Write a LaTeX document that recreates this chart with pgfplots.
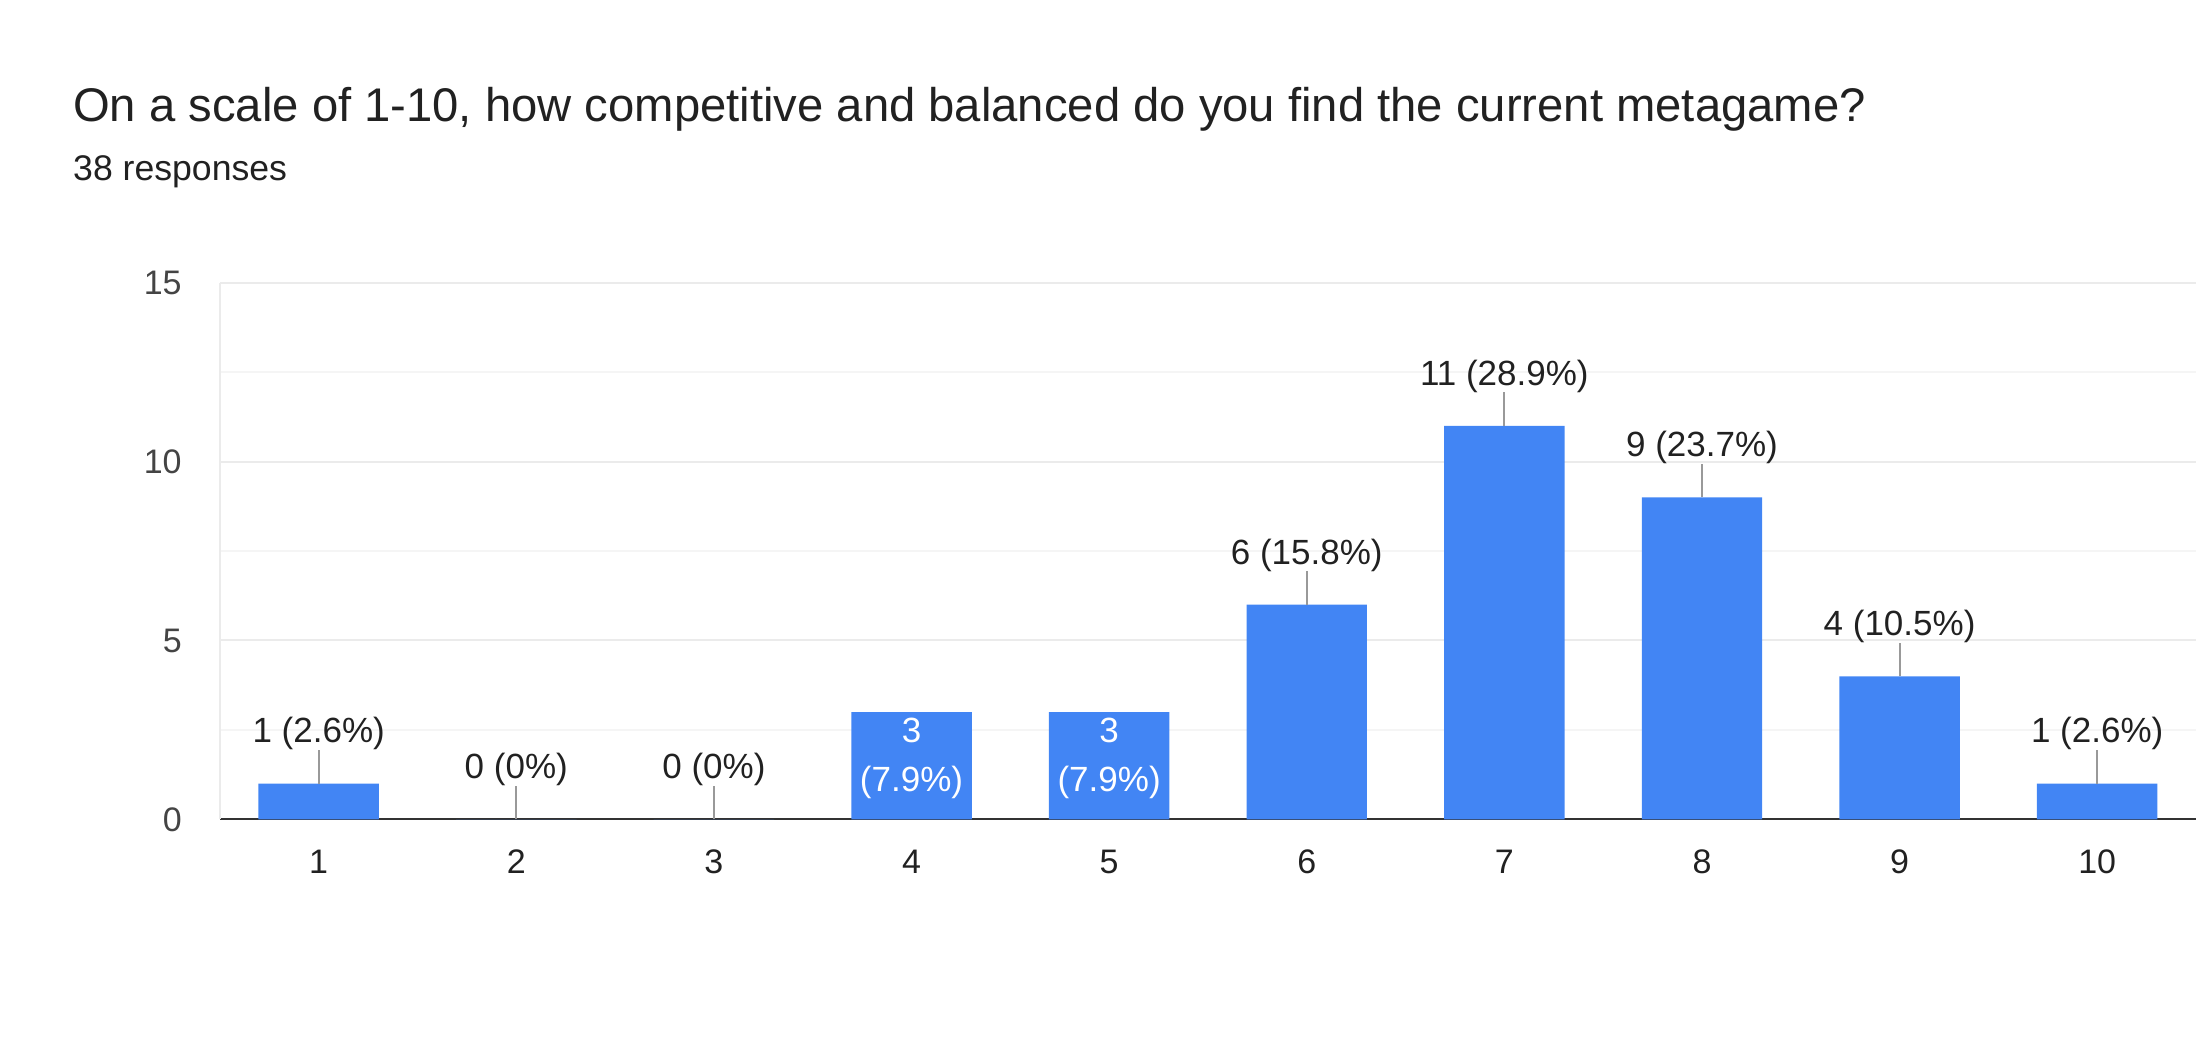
\documentclass[border=0pt]{standalone}
\usepackage{pgfplots}
\pgfplotsset{compat=1.18}
\usepackage{fontspec}
\setmainfont{Liberation Sans}
\definecolor{barblue}{HTML}{4285F4}
\definecolor{txt}{HTML}{212121}
\definecolor{ticktxt}{HTML}{444444}
\definecolor{gridmaj}{HTML}{EBEBEB}
\definecolor{gridmin}{HTML}{F5F5F5}
\definecolor{leader}{HTML}{999999}
\definecolor{basec}{HTML}{333333}
\begin{document}
\begin{tikzpicture}
\path[use as bounding box] (0,0) rectangle (1097.6pt,522.2pt);
\node[anchor=base west, inner sep=0, text=txt, font=\fontsize{23.6}{28}\selectfont] at (36.4pt,461.3pt) {On a scale of 1-10, how competitive and balanced do you find the current metagame?};
\node[anchor=base west, inner sep=0, text=txt, font=\fontsize{17.8}{21}\selectfont] at (36.4pt,431.9pt) {38 responses};
\begin{axis}[
  at={(109.9pt,112.7pt)}, anchor=south west,
  scale only axis, width=987.7pt, height=268.1pt,
  xmin=0.5, xmax=10.5, ymin=0, ymax=15,
  xtick={1,...,10}, ytick={0,5,10,15}, minor ytick={2.5,7.5,12.5},
  major tick length=0pt, minor tick length=0pt,
  ymajorgrids, yminorgrids,
  major grid style={draw=gridmaj, line width=1pt},
  minor grid style={draw=gridmin, line width=1pt},
  axis x line*=bottom, axis y line*=left,
  x axis line style={draw=basec, line width=1.1pt, -},
  y axis line style={draw=gridmaj, line width=1pt, -},
  /pgf/number format/assume math mode=true,
  xticklabel style={anchor=base, yshift=-27.3pt, inner sep=0, text=txt, font=\fontsize{17}{20}\selectfont},
  yticklabel style={anchor=east, xshift=-18.9pt, inner sep=0, text=ticktxt, font=\fontsize{17}{20}\selectfont},
  clip=false,
]
\addplot[ybar, bar width=60.2pt, bar shift=0pt, fill=barblue, draw=none] coordinates {(1,1) (2,0) (3,0) (4,3) (5,3) (6,6) (7,11) (8,9) (9,4) (10,1)};
\addplot[draw=none, mark=none, point meta=explicit symbolic, nodes near coords,
  every node near coord/.style={anchor=base, inner sep=0, yshift=20.3pt, text=txt, font=\fontsize{17.5}{21}\selectfont},
  error bars/.cd, y dir=plus, y fixed=0.94, error mark=none, error bar style={draw=leader, line width=0.9pt}]
  coordinates {(1,1) [1 (2.6\%)] (2,0) [0 (0\%)] (3,0) [0 (0\%)] (6,6) [6 (15.8\%)] (7,11) [11 (28.9\%)] (8,9) [9 (23.7\%)] (9,4) [4 (10.5\%)] (10,1) [1 (2.6\%)]};
\addplot[draw=none, mark=none, point meta=explicit symbolic, nodes near coords,
  every node near coord/.style={anchor=base, inner sep=0, yshift=-15.4pt, text=white, font=\fontsize{17.5}{21}\selectfont}]
  coordinates {(4,3) [3] (5,3) [3]};
\addplot[draw=none, mark=none, point meta=explicit symbolic, nodes near coords,
  every node near coord/.style={anchor=base, inner sep=0, yshift=-39.9pt, text=white, font=\fontsize{17.5}{21}\selectfont}]
  coordinates {(4,3) [(7.9\%)] (5,3) [(7.9\%)]};
\end{axis}
\end{tikzpicture}
\end{document}
